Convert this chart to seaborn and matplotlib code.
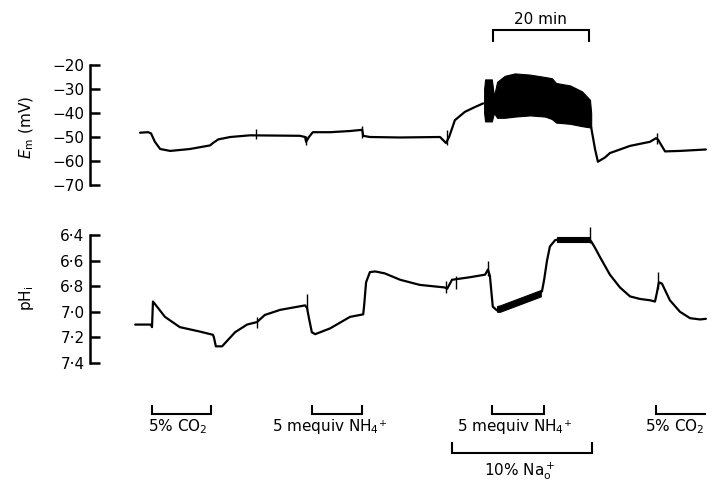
import matplotlib
matplotlib.use("Agg")
import matplotlib.pyplot as plt
import pandas as pd
import seaborn as sns

# --- Em trace: time (min) and membrane potential (mV), two pieces around the burst ---
em_time = [0.0, 1.7, 2.3, 3.1, 4.2, 6.3, 10.4, 14.6, 15.2, 16.3, 18.8, 22.9, 33.3, 34.4,
           34.6, 35.2, 36.0, 39.6, 43.8, 46.3, 46.5, 47.9, 54.2, 62.5, 63.75, 64.4, 65.6,
           67.7, 69.8, 71.5,
           94.0, 94.8, 95.4, 96.9, 97.9, 102.1, 106.25, 107.5, 107.9, 109.4, 112.5, 117.9]
em_value = [-48.2, -48.0, -48.5, -52.0, -55.0, -55.8, -55.0, -53.5, -52.5, -51.0, -50.0,
            -49.3, -49.5, -50.0, -52.0, -50.0, -48.0, -48.0, -47.5, -47.0, -49.5, -50.0,
            -50.2, -50.0, -52.5, -50.0, -43.0, -39.5, -37.5, -36.0,
            -46.0, -55.0, -60.3, -58.5, -56.7, -53.7, -52.0, -50.5, -51.0, -56.0, -55.8, -55.2]
em_piece = [0] * 30 + [1] * 12

# --- Em oscillation envelope during the 10 % Na+ period ---
osc_time = [71.7, 71.9, 73.3, 73.75, 74.4, 76.0, 78.1, 81.25, 84.4, 85.8, 86.7, 89.6,
            92.1, 93.75, 94.0]
osc_top = [-30.0, -26.0, -26.0, -33.0, -27.0, -24.5, -23.5, -24.0, -25.0, -25.5, -27.5,
           -28.5, -31.0, -34.5, -40.0]
osc_bottom = [-40.0, -43.5, -43.5, -40.0, -42.0, -42.0, -41.5, -41.0, -41.5, -42.5, -44.0,
              -44.5, -45.5, -46.0, -46.0]

# --- Em artefact spikes ---
em_spike_time = [24.2, 34.6, 46.25, 63.9, 107.7]
em_spike_low = [-51.0, -53.5, -50.5, -53.5, -53.0]
em_spike_high = [-46.5, -49.5, -45.5, -47.0, -48.5]

# --- pHi trace ---
ph_time = [-1.0, 2.3, 2.5, 2.7, 3.75, 5.2, 8.3, 12.5, 15.2, 15.4, 15.8, 17.1, 19.8, 22.3,
           24.4, 26.0, 29.2, 34.4, 34.8, 35.2, 35.8, 36.5, 39.6, 43.75, 46.5, 46.7, 47.1,
           47.9, 49.0, 51.0, 54.2, 58.3, 63.5, 64.0, 65.0, 68.75, 71.9, 72.5, 72.9, 73.5,
           74.4, 75.0, 83.3, 83.75, 84.2, 84.8, 85.4, 86.5, 87.9, 90.6, 93.3, 94.0, 94.8,
           95.8, 97.9, 100.0, 102.1, 104.2, 106.25, 107.3, 107.7, 108.1, 108.75, 110.4,
           112.5, 114.6, 116.7, 117.9]
ph_value = [7.10, 7.10, 7.12, 6.92, 6.97, 7.04, 7.12, 7.155, 7.18, 7.20, 7.27, 7.27, 7.16,
            7.10, 7.08, 7.025, 6.985, 6.95, 6.97, 7.05, 7.16, 7.175, 7.13, 7.04, 7.02, 6.95,
            6.77, 6.69, 6.685, 6.70, 6.75, 6.79, 6.81, 6.82, 6.75, 6.73, 6.71, 6.67, 6.72,
            6.96, 6.99, 6.975, 6.855, 6.84, 6.75, 6.60, 6.49, 6.44, 6.43, 6.43, 6.43, 6.45,
            6.50, 6.57, 6.71, 6.81, 6.88, 6.90, 6.91, 6.92, 6.85, 6.77, 6.78, 6.91, 7.00,
            7.05, 7.06, 7.055]

# --- thick (noisy) parts of the pHi trace ---
ph_band_time = [74.4, 75.0, 83.5, 86.9, 93.75]
ph_band_top = [6.955, 6.95, 6.83, 6.415, 6.415]
ph_band_bottom = [7.00, 7.00, 6.88, 6.455, 6.455]
ph_band_piece = [0, 0, 0, 1, 1]

# --- pHi artefact spikes ---
ph_spike_time = [24.4, 34.8, 63.75, 65.8, 72.5, 93.75, 107.9]
ph_spike_low = [7.13, 6.98, 6.85, 6.82, 6.72, 6.46, 6.82]
ph_spike_high = [7.04, 6.86, 6.76, 6.72, 6.60, 6.34, 6.69]

# --- axes ticks ---
em_ticks = [-20, -30, -40, -50, -60, -70]
em_ticklabels = ["\u221220", "\u221230", "\u221240", "\u221250", "\u221260", "\u221270"]
ph_ticks = [6.4, 6.6, 6.8, 7.0, 7.2, 7.4]
ph_ticklabels = ["6\u00b74", "6\u00b76", "6\u00b78", "7\u00b70", "7\u00b72", "7\u00b74"]

# --- superfusion periods (min) ---
treat_start = [2.4, 35.8, 73.3, 107.6]
treat_end = [14.8, 46.3, 84.2, 117.9]
treat_closed = [True, True, True, False]
treat_labels = ["5% CO$_2$", "5 mequiv NH$_4$\u207a", "5 mequiv NH$_4$\u207a", "5% CO$_2$"]
treat_label_time = [7.8, 39.4, 78.0, 111.5]
na_start, na_end = 64.9, 94.2
na_label = "10% Na$^+_{\\rm o}$"
na_label_time = 79.2
scale_start, scale_len = 73.5, 20

# ------------------------------------------------------------------
sns.set_style("white")
plt.rcParams["font.family"] = ["DejaVu Sans"]
plt.rcParams["mathtext.fontset"] = "dejavusans"
plt.rcParams["text.color"] = "black"

W, H = 721, 482
fig = plt.figure(figsize=(W / 100, H / 100), dpi=100)
xlim = (-10.42, 119.8)
lw = 1.6

ax_em = fig.add_axes([90 / W, 1 - 200 / H, 625 / W, 145 / H])
ax_ph = fig.add_axes([90 / W, 1 - 375 / H, 625 / W, 150 / H])
ax_ann = fig.add_axes([90 / W, 0, 625 / W, 1])

em_df = pd.DataFrame({"t": em_time, "v": em_value, "piece": em_piece})
sns.lineplot(data=em_df, x="t", y="v", units="piece", estimator=None, sort=False,
             color="black", lw=lw, ax=ax_em)
ax_em.fill_between(osc_time, osc_bottom, osc_top, color="black", lw=0.8)
ax_em.vlines(em_spike_time, em_spike_low, em_spike_high, color="black", lw=1.0)
ax_em.set_ylim(-76.25, -15.83)

ph_df = pd.DataFrame({"t": ph_time, "v": ph_value})
sns.lineplot(data=ph_df, x="t", y="v", estimator=None, sort=False,
             color="black", lw=lw, ax=ax_ph)
band_df = pd.DataFrame({"t": ph_band_time, "top": ph_band_top,
                        "bottom": ph_band_bottom, "piece": ph_band_piece})
for _, g in band_df.groupby("piece"):
    ax_ph.fill_between(g["t"], g["bottom"], g["top"], color="black", lw=0.8)
ax_ph.vlines(ph_spike_time, ph_spike_low, ph_spike_high, color="black", lw=1.0)
ax_ph.set_ylim(7.494, 6.322)

for ax, ticks, labels in [(ax_em, em_ticks, em_ticklabels), (ax_ph, ph_ticks, ph_ticklabels)]:
    ax.set_xlim(*xlim)
    ax.set_xticks([])
    ax.set_yticks(ticks)
    ax.set_yticklabels(labels)
    ax.set_xlabel("")
    ax.set_ylabel("")
    for s in ["top", "right", "bottom"]:
        ax.spines[s].set_visible(False)
    ax.spines["left"].set_bounds(min(ticks), max(ticks))
    ax.spines["left"].set_linewidth(1.8)
    ax.spines["left"].set_color("black")
    ax.tick_params(axis="y", direction="in", length=7, width=1.8, pad=4,
                   labelsize=11, colors="black", left=True)
    ax.patch.set_alpha(0)

fig.text(27 / W, 1 - 127 / H, "$E_{\\rm m}$ (mV)", rotation=90, ha="center", va="center",
         fontsize=11, color="black")
fig.text(27 / W, 1 - 298 / H, "pH$_{\\rm i}$", rotation=90, ha="center", va="center",
         fontsize=11, color="black")

# --- annotation layer: y in pixel rows of the figure ---
ax_ann.set_xlim(*xlim)
ax_ann.set_ylim(H, 0)
ax_ann.set_axis_off()
k = dict(color="black", lw=1.5, solid_capstyle="butt", solid_joinstyle="miter")

# 20 min scale bar
ax_ann.plot([scale_start, scale_start, scale_start + scale_len, scale_start + scale_len],
            [41.5, 30, 30, 41.5], **k)
ax_ann.text(scale_start + scale_len / 2, 24, "20 min", ha="center", va="baseline",
            fontsize=11, color="black")

for s, e, closed, lab, lt in zip(treat_start, treat_end, treat_closed, treat_labels,
                                 treat_label_time):
    xs = [s, s, e] + ([e] if closed else [])
    ys = [405, 414, 414] + ([405] if closed else [])
    ax_ann.plot(xs, ys, **k)
    ax_ann.text(lt, 431, lab, ha="center", va="baseline", fontsize=11, color="black")

ax_ann.plot([na_start, na_start, na_end, na_end], [442, 453, 453, 442], **k)
ax_ann.text(na_label_time, 475, na_label, ha="center", va="baseline", fontsize=11,
            color="black")

fig.savefig("out.png", dpi=100)
